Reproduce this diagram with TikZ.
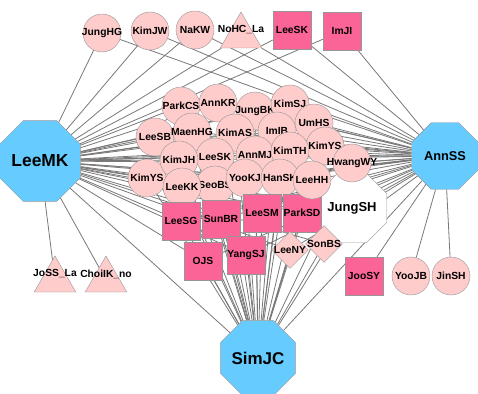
\documentclass[tikz,border=0pt]{standalone}
\usepackage{fontspec}
\setmainfont{Liberation Sans}
\usetikzlibrary{shapes,backgrounds}

\definecolor{hubblue}{RGB}{102,204,255}
\definecolor{palepink}{RGB}{255,204,204}
\definecolor{deeppink}{RGB}{250,100,150}
\definecolor{edgegray}{RGB}{120,120,120}
\definecolor{rimgray}{RGB}{150,150,150}

\tikzset{
  every label/.style={font=\fontsize{10.3}{12}\selectfont\bfseries, inner sep=0pt},
  person/.style={circle, draw=rimgray, fill=palepink, minimum size=38pt, inner sep=0pt},
  paper/.style={rectangle, draw=rimgray, fill=deeppink, minimum size=38pt, inner sep=0pt},
  gem/.style={diamond, draw=rimgray, fill=palepink, minimum size=37pt, inner sep=0pt},
  tri/.style={regular polygon, regular polygon sides=3, draw=rimgray, fill=palepink, minimum size=48pt, inner sep=0pt},
  hub/.style={regular polygon, regular polygon sides=8, draw=rimgray, fill=hubblue, inner sep=0pt, font=\bfseries},
  tie/.style={draw=edgegray, line width=0.8pt}
}

\begin{document}
\begin{tikzpicture}[x=1pt,y=-1pt]
        \useasboundingbox (0,0) rectangle (478,393);

        % draw hubs
        \node[hub, minimum size=76pt, font=\fontsize{17.4}{20}\selectfont\bfseries] (LeeMK) at (40,161) {LeeMK};
        \node[hub, minimum size=72pt, font=\fontsize{12.8}{15}\selectfont\bfseries] (AnnSS) at (445,156) {AnnSS};
        \node[hub, minimum size=77pt, font=\fontsize{17}{20}\selectfont\bfseries] (SimJC) at (258,358) {SimJC};
        \node[hub, fill=white, minimum size=57pt, font=\fontsize{13}{15}\selectfont\bfseries] (JungSH) at (352,208) {JungSH};

        % draw top row
        \node[person, label=center:JungHG] (JungHG) at (102,33) {};
        \node[person, label=center:KimJW] (KimJW) at (150,31) {};
        \node[person, label=center:NaKW] (NaKW) at (195,30) {};
        \node[tri, label={[yshift=6pt]center:NoHC\_La}] (NoHC) at (241,36) {};
        \node[paper, label=center:LeeSK] (LeeSKa) at (292,30) {};
        \node[paper, label=center:ImJI] (ImJI) at (342,31) {};

        % draw cluster
        \node[person, label=center:ParkCS] (ParkCS) at (181,106) {};
        \node[person, label=center:AnnKR] (AnnKR) at (218,103) {};
        \node[person, label=center:JungBK] (JungBK) at (255,111) {};
        \node[person, label=center:KimSJ] (KimSJ) at (290,104) {};
        \node[person, label=center:LeeSB] (LeeSB) at (155,137) {};
        \node[person, label=center:UmHS] (UmHS) at (314,123) {};
        \node[person, label=center:MaenHG] (MaenHG) at (192,132) {};
        \node[person, label=center:KimAS] (KimAS) at (235,133) {};
        \node[person, label=center:ImIB] (ImIB) at (277,131) {};
        \node[person, label=center:KimYS] (KimYSa) at (325,146) {};
        \node[person, label=center:AnnMJ] (AnnMJ) at (255,155) {};
        \node[person, label=center:KimTH] (KimTH) at (290,151) {};
        \node[person, label=center:HwangWY] (HwangWY) at (352,163) {};
        \node[person, label=center:LeeSK] (LeeSKb) at (215,157) {};
        \node[person, label=center:KimYS] (KimYSb) at (147,178) {};
        \node[person, label=center:KimJH] (KimJH) at (179,160) {};
        \node[person, label=center:SeoBS] (SeoBS) at (215,185) {};
        \node[person, label=center:LeeKK] (LeeKK) at (182,187) {};
        \node[person, label=center:YooKJ] (YooKJ) at (245,178) {};
        \node[person, label=center:HanSK] (HanSK) at (280,178) {};

        % draw squares and diamonds
        \node[paper, label=center:LeeSG] (LeeSG) at (181,221) {};
        \node[paper, label=center:SunBR] (SunBR) at (221,219) {};
        \node[paper, label=center:LeeSM] (LeeSM) at (262,213) {};
        \node[paper, label=center:ParkSD] (ParkSD) at (302,213) {};
        \node[person, label=center:LeeHH] (LeeHH) at (312,180) {};
        \node[paper, label=center:OJS] (OJS) at (203,261) {};
        \node[paper, label=center:YangSJ] (YangSJ) at (246,255) {};
        \node[gem, label=center:LeeNY] (LeeNY) at (290,250) {};
        \node[gem, label=center:SonBS] (SonBS) at (324,244) {};

        % draw outer nodes
        \node[paper, label=center:JooSY] (JooSY) at (364,276) {};
        \node[person, label=center:YooJB] (YooJB) at (411,276) {};
        \node[person, label=center:JinSH] (JinSH) at (451,276) {};
        \node[tri, label={[yshift=6pt]center:JoSS\_La}] (JoSS) at (55,280) {};
        \node[tri, label={[yshift=6pt]center:ChoiIK\_no}] (ChoiIK) at (106,280) {};

        % draw ties
        \begin{scope}[on background layer]
          \foreach \n in {JungHG,KimJW,NaKW,NoHC,LeeSKa,ImJI,JoSS,ChoiIK,SimJC}
            \draw[tie] (LeeMK) -- (\n);
          \foreach \n in {JungHG,KimJW,NaKW,NoHC,LeeSKa,ImJI,YooJB,JinSH,JooSY,SimJC}
            \draw[tie] (AnnSS) -- (\n);
          \foreach \n in {ParkCS,AnnKR,JungBK,KimSJ,LeeSB,UmHS,MaenHG,KimAS,ImIB,KimYSa,AnnMJ,KimTH,HwangWY,LeeSKb,KimYSb,KimJH,SeoBS,LeeKK,YooKJ,HanSK,LeeHH,LeeSG,SunBR,LeeSM,ParkSD,OJS,YangSJ,LeeNY,SonBS,JungSH}
            {
              \draw[tie] (LeeMK) -- (\n);
              \draw[tie] (AnnSS) -- (\n);
              \draw[tie] (SimJC) -- (\n);
            }
        \end{scope}
\end{tikzpicture}
\end{document}
